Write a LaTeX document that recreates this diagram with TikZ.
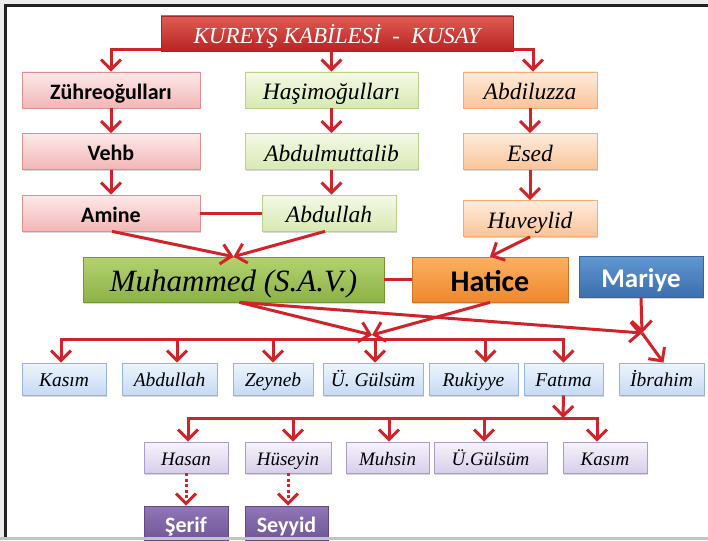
\documentclass[tikz,border=0pt]{standalone}
\usepackage{fontspec}
\setmainfont{Liberation Serif}
\newfontfamily\calfont{Carlito}
\usepackage{tikz}
\usetikzlibrary{arrows.meta,shadows}
\usepackage{color}
\definecolor{linered}{RGB}{210,35,42}
\definecolor{framegray}{RGB}{236,236,236}
\definecolor{framedark}{RGB}{35,32,33}
\definecolor{framelow}{RGB}{195,195,195}
\definecolor{tribetop}{RGB}{222,92,82}
\definecolor{tribebot}{RGB}{185,35,35}
\definecolor{tribeedge}{RGB}{165,40,40}
\definecolor{pinktop}{RGB}{253,233,233}
\definecolor{pinkbot}{RGB}{243,182,182}
\definecolor{pinkedge}{RGB}{226,142,142}
\definecolor{greentop}{RGB}{244,249,230}
\definecolor{greenbot}{RGB}{216,233,178}
\definecolor{greenedge}{RGB}{186,210,136}
\definecolor{peachtop}{RGB}{254,236,220}
\definecolor{peachbot}{RGB}{250,196,152}
\definecolor{peachedge}{RGB}{244,170,116}
\definecolor{prophettop}{RGB}{180,210,112}
\definecolor{prophetbot}{RGB}{140,178,70}
\definecolor{prophetedge}{RGB}{115,150,55}
\definecolor{wifetop}{RGB}{251,177,97}
\definecolor{wifebot}{RGB}{240,135,45}
\definecolor{wifeedge}{RGB}{210,115,40}
\definecolor{mariyetop}{RGB}{96,150,210}
\definecolor{mariyebot}{RGB}{60,112,172}
\definecolor{mariyeedge}{RGB}{55,100,155}
\definecolor{kidtop}{RGB}{237,245,253}
\definecolor{kidbot}{RGB}{198,218,244}
\definecolor{kidedge}{RGB}{150,180,220}
\definecolor{grandtop}{RGB}{247,243,251}
\definecolor{grandbot}{RGB}{216,206,236}
\definecolor{grandedge}{RGB}{170,155,200}
\definecolor{lineagetop}{RGB}{146,119,184}
\definecolor{lineagebot}{RGB}{112,86,150}
\definecolor{lineageedge}{RGB}{95,75,130}

\begin{document}
\begin{tikzpicture}[x=1pt,y=-1pt]
\tikzstyle{every node}+=[inner sep=0pt, text depth=0pt]
\tikzstyle{box}=[rectangle, draw, line width=0.7pt, drop shadow={shadow xshift=1.2pt,shadow yshift=-1.5pt,opacity=0.3}]
\tikzstyle{tribebox}=[box, draw=tribeedge, top color=tribetop, bottom color=tribebot, text=white, minimum width=352, minimum height=35, text height=19.5pt, font=\fontsize{23}{23}\selectfont\itshape]
\tikzstyle{pinkbox}=[box, draw=pinkedge, top color=pinktop, bottom color=pinkbot, minimum width=178, minimum height=36, text height=18.5pt, font=\calfont\bfseries\fontsize{22}{22}\selectfont]
\tikzstyle{greenbox}=[box, draw=greenedge, top color=greentop, bottom color=greenbot, minimum height=36, text height=19.5pt, font=\fontsize{23.5}{23.5}\selectfont\itshape]
\tikzstyle{peachbox}=[box, draw=peachedge, top color=peachtop, bottom color=peachbot, minimum width=134, minimum height=36, text height=19.5pt, font=\fontsize{23.5}{23.5}\selectfont\itshape]
\tikzstyle{prophetbox}=[box, draw=prophetedge, top color=prophettop, bottom color=prophetbot, minimum width=301, minimum height=45, text height=24pt, font=\fontsize{31}{31}\selectfont\itshape]
\tikzstyle{wifebox}=[box, draw=wifeedge, top color=wifetop, bottom color=wifebot, minimum width=156, minimum height=45, text height=24pt, font=\calfont\bfseries\fontsize{30}{30}\selectfont]
\tikzstyle{mariyebox}=[box, draw=mariyeedge, top color=mariyetop, bottom color=mariyebot, text=white, minimum width=124, minimum height=41, text height=21.5pt, font=\calfont\bfseries\fontsize{27}{27}\selectfont]
\tikzstyle{kidbox}=[box, draw=kidedge, top color=kidtop, bottom color=kidbot, minimum height=32, text height=15.4pt, font=\fontsize{19.5}{19.5}\selectfont\itshape]
\tikzstyle{grandbox}=[box, draw=grandedge, top color=grandtop, bottom color=grandbot, minimum height=31, text height=15pt, font=\fontsize{19}{19}\selectfont\itshape]
\tikzstyle{lineagebox}=[box, draw=lineageedge, top color=lineagetop, bottom color=lineagebot, text=white, minimum height=34, text height=18pt, font=\calfont\bfseries\fontsize{22}{22}\selectfont]
\tikzstyle{link}=[line width=3pt, linered]
\tikzstyle{arr}=[link, -{Straight Barb[length=10pt,width=20pt]}]
\tikzstyle{dotarr}=[arr, dash pattern=on 3pt off 2.5pt]
\useasboundingbox (0,0) rectangle (708,540);
\fill [framegray] (0,0) rectangle (708,540);
\fill [white] (7,7) rectangle (708,537);
\draw [line width=3pt, framedark] (5.5,537) -- (5.5,5.5) -- (708,5.5);

\node [tribebox] (ky) at (337,33.5) {KUREYŞ KABİLESİ\ \ -\ \ KUSAY};
\node [pinkbox] (zu) at (111,90) {Zühreoğulları};
\node [greenbox, minimum width=173] (ha) at (331.5,90) {Haşimoğulları};
\node [peachbox] (ad) at (530,90) {Abdiluzza};
\node [pinkbox] (ve) at (111,151.5) {Vehb};
\node [greenbox, minimum width=173] (mu) at (331.5,151.5) {Abdulmuttalib};
\node [peachbox] (es) at (530,151.5) {Esed};
\node [pinkbox] (am) at (111,213) {Amine};
\node [greenbox, minimum width=134] (ab) at (329,213) {Abdullah};
\node [peachbox] (hu) at (530,218.5) {Huveylid};
\node [prophetbox] (mh) at (233.5,279.5) {Muhammed (S.A.V.)};
\node [wifebox] (ht) at (490,279.5) {Hatice};
\node [mariyebox] (mr) at (641,276.5) {Mariye};

\node [kidbox, minimum width=84] (c1) at (64,379) {Kasım};
\node [kidbox, minimum width=95] (c2) at (169.5,379) {Abdullah};
\node [kidbox, minimum width=80] (c3) at (273,379) {Zeyneb};
\node [kidbox, minimum width=100] (c4) at (373,379) {Ü. Gülsüm};
\node [kidbox, minimum width=89] (c5) at (473.5,379) {Rukiyye};
\node [kidbox, minimum width=79] (c6) at (563.5,379) {Fatıma};
\node [kidbox, minimum width=85] (c7) at (661.5,379) {İbrahim};

\node [grandbox, minimum width=84] (g1) at (186,457.5) {Hasan};
\node [grandbox, minimum width=86] (g2) at (288,457.5) {Hüseyin};
\node [grandbox, minimum width=83] (g3) at (387.5,457.5) {Muhsin};
\node [grandbox, minimum width=113] (g4) at (490.5,457.5) {Ü.Gülsüm};
\node [grandbox, minimum width=84] (g5) at (605,457.5) {Kasım};

\node [lineagebox, minimum width=84] (s1) at (186,523) {Şerif};
\node [lineagebox, minimum width=83] (s2) at (286.5,523) {Seyyid};

\coordinate (kids) at (372,339);
\coordinate (ibj) at (642,333);
\coordinate (gkids) at (563,418);

\draw [arr] ([yshift=2]ky.south west) -| (zu.north);
\draw [arr] (ky.south -| ha.north) -- (ha.north);
\draw [arr] ([yshift=2]ky.south east) -| ([xshift=3]ad.north);
\draw [arr] (zu.south) -- (ve.north);
\draw [arr] (ve.south) -- (am.north);
\draw [arr] (ha.south) -- (mu.north);
\draw [arr] (mu.south) -- (mu.south |- ab.north);
\draw [arr] (ad.south) -- (es.north);
\draw [arr] (es.south) -- (hu.north);
\draw [link] (am.east) -- (ab.west);
\draw [arr] ([xshift=1]am.south) -- (mh.north);
\draw [arr] ([xshift=-4]ab.south) -- (mh.north);
\draw [arr] (hu.south) -- (ht.north);
\draw [link] (mh.east) -- (ht.west);

\draw [arr] ([xshift=6]mh.south) -- ([yshift=4]kids);
\draw [arr] (ht.south) -- ([yshift=4]kids);
\draw [arr] ([xshift=6]mh.south) -- (ibj);
\draw [arr] (mr.south) -- (ibj);
\draw [arr] (ibj) -- ([xshift=2]c7.north);

\draw [arr] (kids) -| ([xshift=-3]c1.north);
\draw [arr] (kids) -| (c6.north);
\draw [arr] ([xshift=7.5]c2.north |- kids) -- ([xshift=7.5]c2.north);
\draw [arr] (c3.north |- kids) -- (c3.north);
\draw [arr] ([xshift=2]c4.north |- kids) -- ([xshift=2]c4.north);
\draw [arr] ([xshift=12]c5.north |- kids) -- ([xshift=12]c5.north);

\draw [arr] (c6.south) -- (gkids);
\draw [arr] (gkids) -| ([xshift=2]g1.north);
\draw [arr] (gkids) -| ([xshift=-8]g5.north);
\draw [arr] ([xshift=5]g2.north |- gkids) -- ([xshift=5]g2.north);
\draw [arr] ([xshift=1.5]g3.north |- gkids) -- ([xshift=1.5]g3.north);
\draw [arr] ([xshift=-6.5]g4.north |- gkids) -- ([xshift=-6.5]g4.north);

\draw [dotarr] (g1.south) -- (s1.north);
\draw [dotarr] (g2.south) -- (g2.south |- s2.north);

\fill [framelow] (0,537) rectangle (708,540);
\end{tikzpicture}
\end{document}
